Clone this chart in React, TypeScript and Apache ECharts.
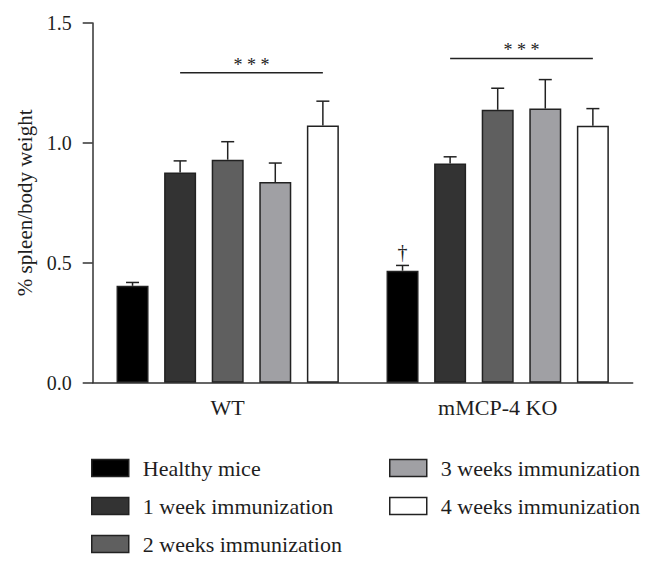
import React, { useEffect, useRef } from "react";
import * as echarts from "echarts";

const categories = ["WT", "mMCP-4 KO"];
const seriesNames = [
  "Healthy mice",
  "1 week immunization",
  "2 weeks immunization",
  "3 weeks immunization",
  "4 weeks immunization",
];
const healthy = [0.404, 0.467];
const week1 = [0.877, 0.914];
const week2 = [0.93, 1.138];
const week3 = [0.837, 1.143];
const week4 = [1.073, 1.071];
const healthyErr = [0.014, 0.022];
const week1Err = [0.048, 0.028];
const week2Err = [0.075, 0.09];
const week3Err = [0.079, 0.121];
const week4Err = [0.101, 0.072];
const yTicks = [0, 0.5, 1.0, 1.5];
// significance brackets: [category, fromSeries, toSeries, y]
const sigBrackets = [
  [0, 1, 4, 1.293],
  [1, 1, 4, 1.352],
];
const sigLabel = "* * *";
// dagger: [category, series, y]
const daggerMarks = [[1, 0, 0.543]];

const means = [healthy, week1, week2, week3, week4];
const errs = [healthyErr, week1Err, week2Err, week3Err, week4Err];
const colors = ["#000000", "#333333", "#5f5f5f", "#a0a0a4", "#ffffff"];

const BAR_W = 32;
const BAR_GAP = 0.487;
const STEP = BAR_W * (1 + BAR_GAP);
const FONT = "Liberation Serif";
const INK = "#1e1e1e";

export default function App() {
  const ref = useRef<HTMLDivElement>(null);
  useEffect(() => {
    if (!ref.current) return;
    const chart = echarts.init(ref.current, null, { renderer: "svg" });

    const barSeries = seriesNames.map((name, i) => ({
      name,
      type: "bar",
      data: means[i],
      barWidth: BAR_W,
      barGap: `${BAR_GAP * 100}%`,
      itemStyle: { color: colors[i], borderColor: "#222", borderWidth: 1.5 },
      emphasis: { disabled: true },
    }));

    const errData: number[][] = [];
    means.forEach((arr, i) =>
      arr.forEach((m, c) => errData.push([c, m, m + errs[i][c], i]))
    );

    const legendBase = {
      orient: "vertical",
      top: 452,
      icon: "rect",
      itemWidth: 37,
      itemHeight: 17,
      itemGap: 16,
      selectedMode: false,
      itemStyle: { borderColor: "#222", borderWidth: 1.5, borderJoin: "miter" },
      textStyle: { fontFamily: FONT, fontSize: 22, color: INK, lineHeight: 22, padding: [0, 0, 0, 9] },
    };

    const option: any = {
      animation: false,
      textStyle: { fontFamily: FONT },
      grid: { left: 92.7, right: 20.3, top: 23, bottom: 184.3 },
      legend: [
        { ...legendBase, data: seriesNames.slice(0, 3), left: 86 },
        { ...legendBase, data: seriesNames.slice(3), left: 384 },
      ],
      xAxis: {
        type: "category",
        data: categories,
        axisLine: { lineStyle: { color: "#333", width: 1.5 } },
        axisTick: { alignWithLabel: true, length: 10, lineStyle: { color: "#333", width: 1.5 } },
        axisLabel: { fontFamily: FONT, fontSize: 22, color: INK, margin: 14 },
      },
      yAxis: {
        type: "value",
        min: 0,
        max: 1.5,
        interval: 0.5,
        name: "% spleen/body weight",
        nameLocation: "middle",
        nameGap: 55,
        nameTextStyle: { fontFamily: FONT, fontSize: 21, color: INK },
        axisLine: { show: true, lineStyle: { color: "#333", width: 1.5 } },
        axisTick: { show: true, length: 10, lineStyle: { color: "#333", width: 1.5 } },
        splitLine: { show: false },
        axisLabel: {
          fontFamily: FONT,
          fontSize: 20,
          color: INK,
          margin: 21,
          customValues: yTicks,
          formatter: (v: number) => v.toFixed(1),
        },
      },
      series: [
        ...barSeries,
        {
          type: "custom",
          name: "err",
          data: errData,
          z: 5,
          renderItem: (params: any, api: any) => {
            const c = api.value(0);
            const m = api.value(1);
            const t = api.value(2);
            const i = api.value(3);
            const p0 = api.coord([c, m]);
            const p1 = api.coord([c, t]);
            const x = p0[0] + (i - 2) * STEP;
            const st = { stroke: "#222", lineWidth: 1.5 };
            return {
              type: "group",
              children: [
                { type: "line", shape: { x1: x, y1: p0[1], x2: x, y2: p1[1] }, style: st },
                { type: "line", shape: { x1: x - 6.5, y1: p1[1], x2: x + 6.5, y2: p1[1] }, style: st },
              ],
            };
          },
        },
        {
          type: "custom",
          name: "sig",
          data: sigBrackets,
          z: 5,
          renderItem: (params: any, api: any) => {
            const c = api.value(0);
            const f = api.value(1);
            const t = api.value(2);
            const y = api.value(3);
            const p = api.coord([c, y]);
            const x1 = p[0] + (f - 2) * STEP;
            const x2 = p[0] + (t - 2) * STEP;
            return {
              type: "group",
              children: [
                { type: "line", shape: { x1, y1: p[1], x2, y2: p[1] }, style: { stroke: "#222", lineWidth: 1.5 } },
                {
                  type: "text",
                  x: (x1 + x2) / 2,
                  y: p[1] - 8,
                  style: {
                    text: sigLabel,
                    fontFamily: FONT,
                    fontSize: 18,
                    fill: "#222",
                    textAlign: "center",
                    textVerticalAlign: "middle",
                  },
                },
              ],
            };
          },
        },
        {
          type: "custom",
          name: "dagger",
          data: daggerMarks,
          z: 5,
          renderItem: (params: any, api: any) => {
            const c = api.value(0);
            const i = api.value(1);
            const y = api.value(2);
            const p = api.coord([c, y]);
            return {
              type: "text",
              x: p[0] + (i - 2) * STEP,
              y: p[1],
              style: {
                text: "†",
                fontFamily: FONT,
                fontSize: 20,
                fill: "#222",
                textAlign: "center",
                textVerticalAlign: "middle",
              },
            };
          },
        },
      ],
    };
    chart.setOption(option);
    return () => chart.dispose();
  }, []);
  return (
    <div
      ref={ref}
      style={{ position: "fixed", left: 0, top: 0, width: 653, height: 567, background: "#fff" }}
    />
  );
}
